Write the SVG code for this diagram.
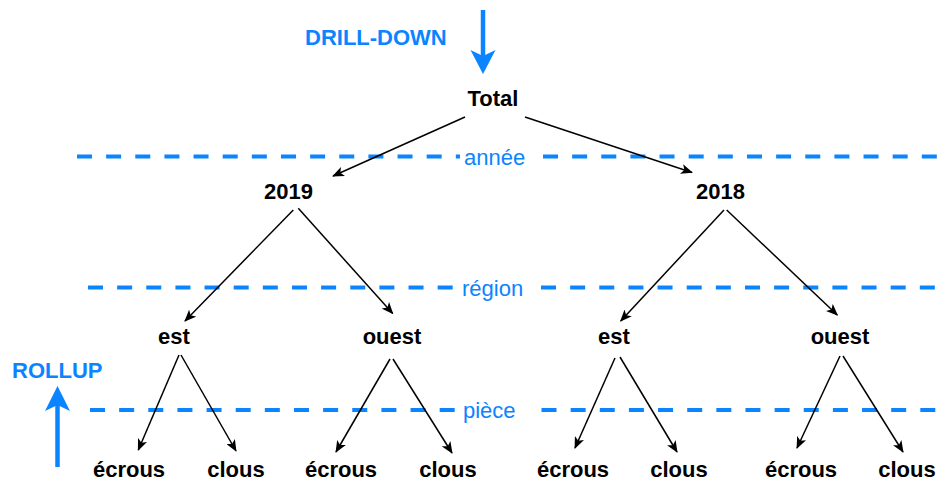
<svg xmlns="http://www.w3.org/2000/svg" width="946" height="484" viewBox="0 0 946 484">
<style>
  .node { font-family: "Liberation Sans", Arial, Helvetica, sans-serif; font-size: 22px; font-weight: bold; fill: #000; text-anchor: middle; }
  .lvl { font-family: "Liberation Sans", Arial, Helvetica, sans-serif; font-size: 22px; fill: #0B84FF; }
  .act { font-family: "Liberation Sans", Arial, Helvetica, sans-serif; font-size: 22px; font-weight: bold; fill: #0B84FF; }
  .dash { stroke: #0B84FF; stroke-width: 4; stroke-dasharray: 15 14.14; fill: none; }
  .edge { stroke: #000; stroke-width: 1.5; fill: none; marker-end: url(#ah); }
  .blue { stroke: #0B84FF; stroke-width: 4.5; fill: none; }
</style>
<defs>
  <marker id="ah" markerUnits="userSpaceOnUse" viewBox="0 0 12 10" markerWidth="12" markerHeight="10" refX="11" refY="5" orient="auto">
    <path d="M0,0 L12,5 L0,10 L3,5 Z" fill="#000"/>
  </marker>
</defs>
<rect width="946" height="484" fill="#fff"/>

<g id="levels">
  <line class="dash" x1="77" y1="156.5" x2="460" y2="156.5"/>
  <line class="dash" x1="543" y1="156.5" x2="939" y2="156.5"/>
  <text class="lvl" x="464" y="165">année</text>
  <line class="dash" x1="88" y1="287.5" x2="455" y2="287.5"/>
  <line class="dash" x1="541" y1="287.5" x2="939" y2="287.5"/>
  <text class="lvl" x="462" y="296">région</text>
  <line class="dash" x1="90" y1="410" x2="457" y2="410"/>
  <line class="dash" x1="541.5" y1="410" x2="939" y2="410"/>
  <text class="lvl" x="463" y="417.5">pièce</text>
</g>

<g id="drilldown">
  <text class="act" x="305" y="45">DRILL-DOWN</text>
  <line class="blue" x1="483" y1="10" x2="483" y2="56"/>
  <polygon points="483,74 470.5,50 483,56 495.5,50" fill="#0B84FF"/>
</g>
<g id="rollup">
  <text class="act" x="12" y="377.5">ROLLUP</text>
  <line class="blue" x1="57.5" y1="467" x2="57.5" y2="404"/>
  <polygon points="57.5,386 45,411 57.5,405 70,411" fill="#0B84FF"/>
</g>

<g id="connectors">
  <line class="edge" x1="465" y1="117" x2="333" y2="176"/>
  <line class="edge" x1="525" y1="117" x2="692" y2="172.5"/>
  <line class="edge" x1="293.3" y1="210" x2="185" y2="321"/>
  <line class="edge" x1="298.3" y1="208.3" x2="392.7" y2="313.5"/>
  <line class="edge" x1="724" y1="210" x2="620.7" y2="321"/>
  <line class="edge" x1="726.7" y1="210" x2="837.3" y2="315"/>
  <line class="edge" x1="179" y1="355" x2="138.3" y2="450"/>
  <line class="edge" x1="181" y1="355" x2="236" y2="451"/>
  <line class="edge" x1="390" y1="359" x2="336" y2="452"/>
  <line class="edge" x1="393" y1="359" x2="452" y2="453"/>
  <line class="edge" x1="615" y1="358" x2="575" y2="448"/>
  <line class="edge" x1="620" y1="357" x2="677" y2="452"/>
  <line class="edge" x1="840" y1="356" x2="797" y2="448"/>
  <line class="edge" x1="843" y1="356" x2="903" y2="452"/>
</g>

<g id="n-total"><text class="node" x="493" y="106">Total</text></g>
<g id="n-2019"><text class="node" x="288.5" y="199">2019</text></g>
<g id="n-2018"><text class="node" x="720.5" y="199">2018</text></g>
<g id="n-2019-est"><text class="node" x="174" y="344">est</text></g>
<g id="n-2019-ouest"><text class="node" x="392" y="344">ouest</text></g>
<g id="n-2018-est"><text class="node" x="614" y="344">est</text></g>
<g id="n-2018-ouest"><text class="node" x="840" y="344">ouest</text></g>
<g id="n-l1"><text class="node" x="129" y="477">écrous</text></g>
<g id="n-l2"><text class="node" x="236" y="477">clous</text></g>
<g id="n-l3"><text class="node" x="341" y="477">écrous</text></g>
<g id="n-l4"><text class="node" x="448" y="477">clous</text></g>
<g id="n-l5"><text class="node" x="573" y="477">écrous</text></g>
<g id="n-l6"><text class="node" x="679" y="477">clous</text></g>
<g id="n-l7"><text class="node" x="801" y="477">écrous</text></g>
<g id="n-l8"><text class="node" x="907" y="477">clous</text></g>
</svg>
